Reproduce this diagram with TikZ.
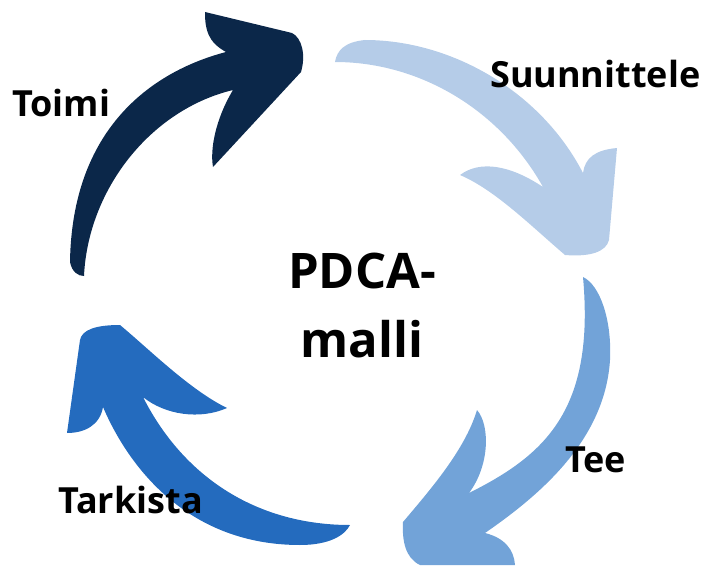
\documentclass[tikz,border=0pt]{standalone}
\usepackage{fontspec}
\setmainfont{Open Sans}
\definecolor{navy}{HTML}{0B2749}
\definecolor{lightb}{HTML}{B5CCE8}
\definecolor{medb}{HTML}{72A3D8}
\definecolor{darkb}{HTML}{246BBE}
\tikzset{
  lbl/.style={inner sep=0pt, anchor=base west, font=\fontsize{36}{40}\selectfont\bfseries},
  ctr/.style={inner sep=0pt, anchor=base, font=\fontsize{49}{56}\selectfont\bfseries}
}
\begin{document}
\begin{tikzpicture}[x=1pt,y=-1pt]
\useasboundingbox (0,0) rectangle (704,567);
% Toimi (navy)
\fill[navy] (84,276) .. controls (88,190) and (150,110) .. (233,90)
  .. controls (215,120) and (210,150) .. (213,167)
  -- (301,72) .. controls (306,55) and (302,38) .. (292,33)
  -- (205,12) .. controls (205,30) and (208,42) .. (226,52)
  .. controls (150,72) and (72,130) .. (70,262)
  .. controls (72,272) and (78,276) .. (84,276) -- cycle;
% Suunnittele (light blue)
\fill[lightb] (335,62) .. controls (337,50) and (345,42) .. (365,40)
  .. controls (450,40) and (540,90) .. (583,173)
  .. controls (585,158) and (595,150) .. (617,148)
  -- (609,240) .. controls (606,252) and (590,257) .. (565,255)
  .. controls (530,225) and (495,190) .. (460,175)
  .. controls (480,160) and (510,165) .. (543,187)
  .. controls (500,110) and (420,62) .. (335,62) -- cycle;
% Tee (medium blue)
\fill[medb] (583,277) .. controls (600,285) and (612,320) .. (610,360)
  .. controls (605,440) and (540,495) .. (485,533)
  .. controls (505,538) and (514,550) .. (515,565)
  -- (420,565) .. controls (405,558) and (402,540) .. (403,522)
  .. controls (430,490) and (465,450) .. (477,410)
  .. controls (490,425) and (490,465) .. (469,493)
  .. controls (545,455) and (595,410) .. (583,277) -- cycle;
% Tarkista (blue)
\fill[darkb] (103,407) .. controls (130,470) and (190,545) .. (300,545)
  .. controls (330,545) and (345,535) .. (350,525)
  .. controls (260,525) and (185,480) .. (143,397)
  .. controls (165,415) and (200,420) .. (227,408)
  .. controls (190,390) and (150,350) .. (120,325)
  .. controls (95,325) and (82,330) .. (80,340)
  -- (67,433) .. controls (85,433) and (100,425) .. (103,407) -- cycle;
% labels
\node[lbl] (toimi) at (12,117) {Toimi};
\node[lbl] (suun) at (490,88) {Suunnittele};
\node[lbl] (tee) at (565,472) {Tee};
\node[lbl] (tark) at (58,513) {Tarkista};
\node[ctr] (pdca) at (362,288) {PDCA-};
\node[ctr] (malli) at (362,357) {malli};
\end{tikzpicture}
\end{document}
